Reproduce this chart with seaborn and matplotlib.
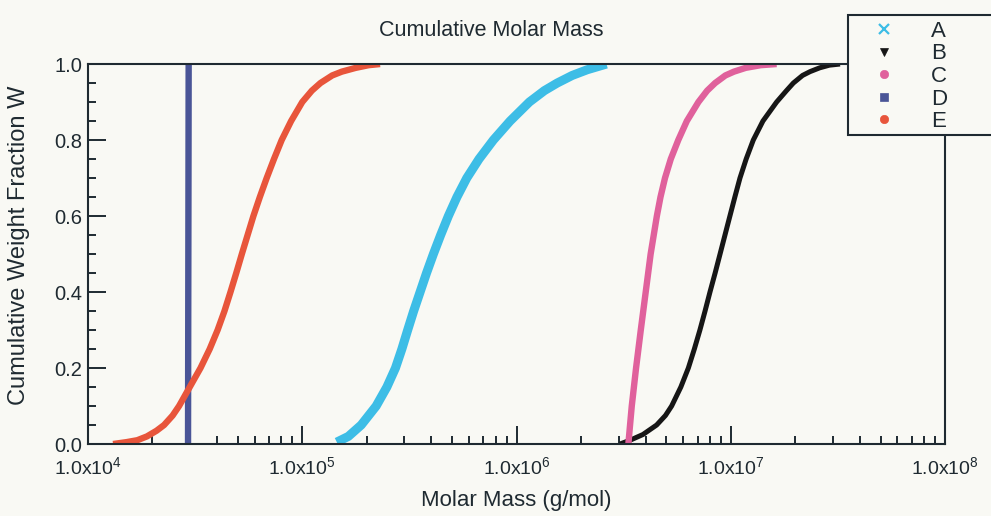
import pandas as pd
import seaborn as sns
import matplotlib.pyplot as plt
from matplotlib.lines import Line2D
from matplotlib.ticker import LogLocator, MultipleLocator, FormatStrFormatter

# values (molar mass in g/mol, cumulative W)
mass_A = [1.449e5, 1.641e5, 1.884e5, 2.213e5, 2.483e5, 2.723e5, 2.917e5, 3.105e5, 3.311e5, 3.548e5,
          3.802e5, 4.093e5, 4.426e5, 4.808e5, 5.272e5, 5.861e5, 6.683e5, 7.798e5, 9.333e5, 1.148e6,
          1.349e6, 1.549e6, 1.820e6, 2.138e6, 2.630e6]
w_A = [0.005, 0.02, 0.05, 0.1, 0.15, 0.2, 0.25, 0.3, 0.35, 0.4,
       0.45, 0.5, 0.55, 0.6, 0.65, 0.7, 0.75, 0.8, 0.85, 0.9,
       0.93, 0.95, 0.97, 0.985, 1.0]

mass_B = [3.041e6, 3.388e6, 3.890e6, 4.508e6, 4.955e6, 5.297e6, 5.848e6, 6.339e6, 6.761e6, 7.178e6,
          7.586e6, 7.998e6, 8.453e6, 8.913e6, 9.397e6, 9.908e6, 1.045e7, 1.104e7, 1.180e7, 1.274e7,
          1.413e7, 1.637e7, 1.820e7, 1.959e7, 2.163e7, 2.344e7, 2.600e7, 2.884e7, 3.236e7]
w_B = [0.0, 0.01, 0.025, 0.05, 0.075, 0.1, 0.15, 0.2, 0.25, 0.3,
       0.35, 0.4, 0.45, 0.5, 0.55, 0.6, 0.65, 0.7, 0.75, 0.8,
       0.85, 0.9, 0.93, 0.95, 0.97, 0.98, 0.99, 0.997, 1.0]

mass_C = [3.327e6, 3.388e6, 3.451e6, 3.614e6, 3.802e6, 4.009e6, 4.227e6, 4.519e6, 4.699e6, 4.932e6,
          5.248e6, 5.689e6, 6.237e6, 7.063e6, 7.762e6, 8.453e6, 9.441e6, 1.035e7, 1.175e7, 1.380e7,
          1.637e7]
w_C = [0.0, 0.05, 0.1, 0.2, 0.3, 0.4, 0.5, 0.6, 0.65, 0.7,
       0.75, 0.8, 0.85, 0.9, 0.93, 0.95, 0.97, 0.98, 0.99, 0.997,
       1.0]

mass_D = [2.93e4, 2.95e4]
w_D = [0.0, 1.0]

mass_E = [1.309e4, 1.514e4, 1.698e4, 1.884e4, 2.089e4, 2.265e4, 2.483e4, 2.661e4, 2.985e4, 3.350e4,
          3.698e4, 4.027e4, 4.335e4, 4.624e4, 4.920e4, 5.224e4, 5.559e4, 5.916e4, 6.339e4, 6.823e4,
          7.379e4, 8.017e4, 8.872e4, 1.0e5, 1.109e5, 1.216e5, 1.380e5, 1.531e5, 1.778e5, 2.042e5,
          2.307e5]
w_E = [0.0, 0.005, 0.01, 0.02, 0.035, 0.05, 0.075, 0.1, 0.15, 0.2,
       0.25, 0.3, 0.35, 0.4, 0.45, 0.5, 0.55, 0.6, 0.65, 0.7,
       0.75, 0.8, 0.85, 0.9, 0.93, 0.95, 0.97, 0.98, 0.99, 0.997,
       1.0]

samples = ['A', 'B', 'C', 'D', 'E']
colors = ['#3dbde6', '#161616', '#e0619c', '#4a5597', '#e8553b']
widths = [6.5, 3.6, 4.6, 4.6, 4.6]
markers = ['x', 'v', 'o', 's', 'o']
x_tick_labels = [r'1.0x10$^{4}$', r'1.0x10$^{5}$', r'1.0x10$^{6}$', r'1.0x10$^{7}$', r'1.0x10$^{8}$']

frames = []
for name, m, w in zip(samples, [mass_A, mass_B, mass_C, mass_D, mass_E], [w_A, w_B, w_C, w_D, w_E]):
    frames.append(pd.DataFrame({'sample': name, 'mass': m, 'W': w}))
df = pd.concat(frames, ignore_index=True)

bg = '#f9f9f4'
ink = '#1f2a31'
sns.set_style('ticks')
plt.rcParams['font.family'] = ['Liberation Sans', 'DejaVu Sans']
plt.rcParams['mathtext.fontset'] = 'custom'
plt.rcParams['mathtext.rm'] = 'Liberation Sans'

fig = plt.figure(figsize=(9.91, 5.16), dpi=100, facecolor=bg)
ax = fig.add_axes([0.0888, 0.1395, 0.8648, 0.7364], facecolor=bg)

sns.lineplot(data=df, x='mass', y='W', hue='sample', hue_order=samples,
             palette=dict(zip(samples, colors)), sort=False, estimator=None,
             legend=False, ax=ax)
for line, lw in zip(ax.lines, widths):
    line.set_linewidth(lw)
    line.set_solid_capstyle('butt')
    line.set_solid_joinstyle('round')

ax.set_xscale('log')
ax.set_xlim(1e4, 1e8)
ax.set_ylim(0, 1)
ax.set_xticks([1e4, 1e5, 1e6, 1e7, 1e8])
ax.set_xticklabels(x_tick_labels)
ax.xaxis.set_minor_locator(LogLocator(base=10, subs=range(2, 10)))
ax.yaxis.set_major_locator(MultipleLocator(0.2))
ax.yaxis.set_minor_locator(MultipleLocator(0.05))
ax.yaxis.set_major_formatter(FormatStrFormatter('%.1f'))

ax.tick_params(which='both', direction='in', color=ink, width=1.4, labelcolor=ink)
ax.tick_params(which='major', length=13)
ax.tick_params(which='minor', length=5.5)
ax.tick_params(axis='x', which='major', labelsize=14, pad=9)
ax.tick_params(axis='y', which='major', labelsize=14.5, pad=4)
for s in ax.spines.values():
    s.set_color(ink)
    s.set_linewidth(1.5)

ax.set_xlabel('Molar Mass (g/mol)', fontsize=16, color=ink, labelpad=8)
ax.set_ylabel('Cumulative Weight Fraction W', fontsize=17, color=ink)
ax.yaxis.set_label_coords(-0.0677, 0.524)
fig.text(491.5 / 991, 1 - 31 / 516, 'Cumulative Molar Mass', fontsize=15.5,
         color=ink, ha='center', va='center')

# legend box (runs off the right edge in the reference)
fig.add_artist(plt.Rectangle((848 / 991, 1 - 135 / 516), 160 / 991, 120 / 516,
                             transform=fig.transFigure, facecolor=bg,
                             edgecolor=ink, linewidth=1.5, zorder=3))
handles = [Line2D([], [], linestyle='none', marker=mk, color=c,
                  markersize=6 if mk != 'x' else 7, markeredgewidth=1.6 if mk == 'x' else 0.5)
           for mk, c in zip(markers, colors)]
fig.legend(handles, samples, loc='upper left', bbox_to_anchor=(848 / 991, 1 - 12 / 516),
           frameon=False, fontsize=16, handlelength=2.4, handletextpad=0.94,
           borderaxespad=0, borderpad=0.4, labelspacing=0.07, labelcolor=ink)

fig.savefig('out.png', dpi=100, facecolor=bg)
